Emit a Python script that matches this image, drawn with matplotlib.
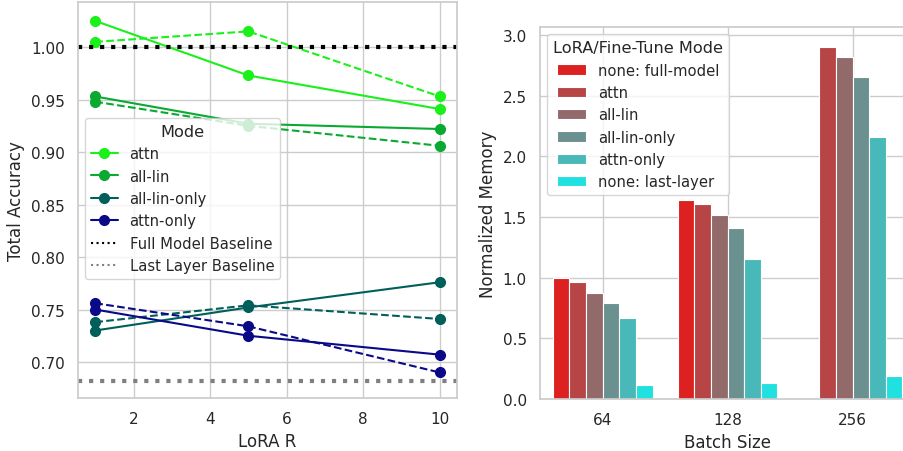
import numpy as np
import matplotlib.pyplot as plt
import seaborn as sns
from matplotlib.lines import Line2D

sns.set_theme(style="whitegrid")

# left panel: accuracy vs LoRA rank
lora_r = [1, 5, 10]
modes = ["attn", "all-lin", "all-lin-only", "attn-only"]
mode_colors = ["#1af01a", "#0aaa32", "#005f5a", "#0a0a88"]
acc_solid = {
    "attn": [1.025, 0.973, 0.941],
    "all-lin": [0.953, 0.927, 0.922],
    "all-lin-only": [0.730, 0.752, 0.776],
    "attn-only": [0.750, 0.725, 0.707],
}
acc_dashed = {
    "attn": [1.005, 1.015, 0.953],
    "all-lin": [0.948, 0.925, 0.906],
    "all-lin-only": [0.738, 0.754, 0.741],
    "attn-only": [0.756, 0.734, 0.690],
}
full_baseline = 1.0
last_layer_baseline = 0.682

# right panel: memory vs batch size
batch_sizes = ["64", "128", "256"]
ft_modes = ["none: full-model", "attn", "all-lin", "all-lin-only", "attn-only", "none: last-layer"]
ft_colors = ["#dd2020", "#b84545", "#936a6a", "#6a9090", "#48b8b8", "#20e0e0"]
memory = {
    "none: full-model": [1.00, 1.64, np.nan],
    "attn": [0.965, 1.61, 2.90],
    "all-lin": [0.87, 1.52, 2.82],
    "all-lin-only": [0.79, 1.41, 2.65],
    "attn-only": [0.665, 1.155, 2.16],
    "none: last-layer": [0.115, 0.135, 0.19],
}

fig = plt.figure(figsize=(9.04, 4.52), dpi=100)
ax1 = fig.add_axes([78 / 904, 53 / 452, 379 / 904, 396 / 452])
ax2 = fig.add_axes([540 / 904, 52 / 452, 375 / 904, 372 / 452])

for m, c in zip(modes, mode_colors):
    ax1.plot(lora_r, acc_solid[m], "-o", color=c, lw=1.5, ms=7)
    ax1.plot(lora_r, acc_dashed[m], "--o", color=c, lw=1.5, ms=7)
ax1.axhline(full_baseline, color="black", ls=":", lw=3)
ax1.axhline(last_layer_baseline, color="gray", ls=":", lw=3)
ax1.set_xlim(0.55, 10.45)
ax1.set_ylim(0.6657, 1.043)
ax1.set_xlabel("LoRA R")
ax1.set_ylabel("Total Accuracy")

handles = [Line2D([], [], color=c, marker="o", lw=1.5, ms=7) for c in mode_colors]
handles += [Line2D([], [], color="black", ls=":", lw=1.5),
            Line2D([], [], color="gray", ls=":", lw=1.5)]
labels = modes + ["Full Model Baseline", "Last Layer Baseline"]
ax1.legend(handles, labels, title="Mode", loc="lower left",
           bbox_to_anchor=(0.0, 0.282), fontsize=10.6, title_fontsize=11.6,
           handlelength=1.8)

n = len(ft_modes)
group_w = 0.8
bar_w = group_w / n
x = np.arange(len(batch_sizes))
for i, (m, c) in enumerate(zip(ft_modes, ft_colors)):
    ax2.bar(x - group_w / 2 + bar_w * (i + 0.5), memory[m], width=bar_w,
            color=c, edgecolor="white", linewidth=0.8, label=m)
ax2.set_xticks(x)
ax2.set_xticklabels(batch_sizes)
ax2.set_xlim(-0.5, 2.5)
ax2.set_ylim(0, 3.066)
ax2.set_xlabel("Batch Size")
ax2.set_ylabel("Normalized Memory")
ax2.legend(title="LoRA/Fine-Tune Mode", loc="upper left",
           fontsize=10.6, title_fontsize=11.6)

fig.savefig("out.png", dpi=100)
